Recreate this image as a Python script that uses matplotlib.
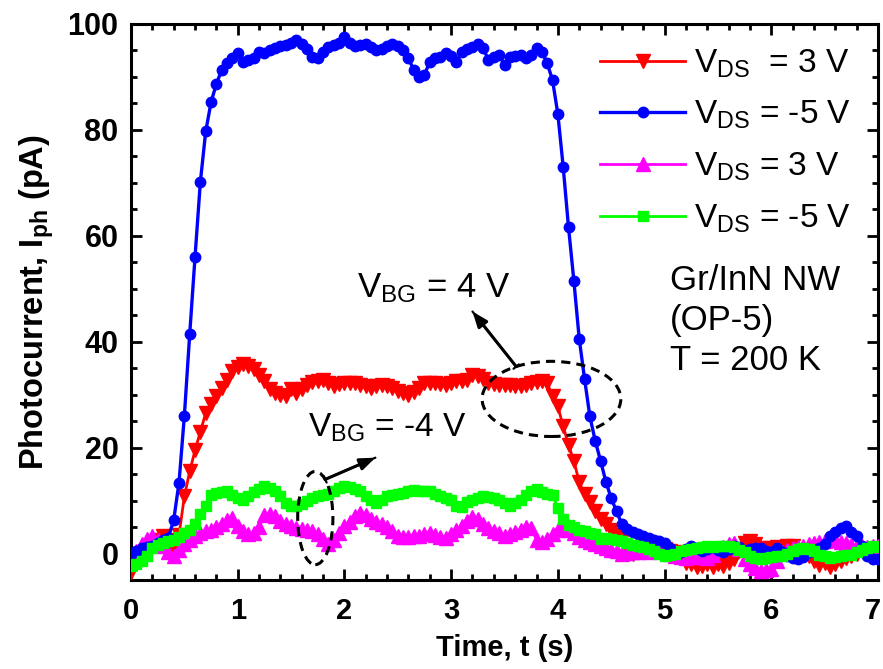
import numpy as np
import matplotlib
matplotlib.use("Agg")
import matplotlib.pyplot as plt
import matplotlib.transforms as mtransforms
from matplotlib.patches import Ellipse

plt.rcParams['font.family'] = ['Liberation Sans', 'DejaVu Sans']
plt.rcParams['mathtext.fontset'] = 'custom'
plt.rcParams['mathtext.rm'] = 'Liberation Sans'
plt.rcParams['mathtext.bf'] = 'Liberation Sans:bold'
plt.rcParams['mathtext.default'] = 'regular'

# sampling time (s), one reading every 50 ms
time_s = np.round(np.arange(0, 141) * 0.05, 2)

# V_BG = 4 V, V_DS = 3 V
iph_bg4_ds3 = [
    -3.5, -2.0, -0.5, 0.5, 1.5, 2.6, 3.3, 2.5, 0.3, 3.5,
    10.8, 15.5, 19.5, 23.0, 26.5, 28.3, 29.8, 31.2, 32.7, 34.4,
    35.3, 35.7, 35.5, 34.8, 33.8, 32.5, 31.0, 30.3, 30.0, 29.7,
    31.0, 30.4, 31.0, 31.9, 32.3, 32.6, 32.8, 32.2, 31.6, 32.0,
    32.2, 32.2, 32.2, 31.9, 31.6, 31.3, 31.6, 31.9, 31.6, 31.2,
    30.6, 30.3, 30.0, 30.5, 31.2, 32.2, 32.2, 32.2, 32.0, 31.9,
    32.2, 32.5, 32.6, 32.8, 33.8, 33.5, 33.0, 32.2, 32.0, 31.9,
    31.9, 31.9, 31.7, 31.6, 31.9, 32.2, 32.4, 32.5, 32.2, 29.7,
    27.8, 24.0, 20.5, 17.5, 13.5, 11.2, 9.8, 8.0, 6.5, 5.5,
    4.5, 3.5, 2.5, 1.0, 0.0, 0.5, 1.0, 1.2, 1.4, 1.2,
    0.8, 0.5, 0.2, -0.8, -1.8, -2.0, -2.6, -2.4, -2.0, -2.6,
    -2.0, -2.4, -1.8, -1.0, 0.5, 2.0, 2.3, 1.8, 1.0, 0.8,
    1.0, 1.2, 1.0, 1.4, 1.4, 0.5, 0.0, -0.5, -1.5, -2.1,
    -1.8, -2.6, -2.0, -1.5, -0.8, -0.5, 0.0, 0.6, 0.2, 0.8,
    1.0,
]

# V_BG = 4 V, V_DS = -5 V
iph_bg4_dsm5 = [
    0.0, 0.5, 1.0, 1.2, 1.5, 2.0, 2.5, 3.0, 6.3, 13.4,
    26.0, 41.4, 56.0, 70.2, 79.7, 85.2, 88.7, 91.3, 92.6, 93.5,
    94.5, 92.9, 93.2, 93.5, 94.8, 94.5, 95.0, 95.4, 95.8, 96.0,
    96.5, 97.0, 96.3, 95.2, 93.8, 93.5, 94.8, 95.6, 96.0, 96.5,
    97.6, 96.5, 95.8, 96.0, 96.3, 95.6, 95.0, 95.3, 95.8, 96.3,
    95.8, 95.0, 93.5, 91.3, 90.0, 90.4, 92.9, 93.5, 93.8, 94.5,
    94.0, 92.9, 94.8, 95.2, 95.6, 96.3, 95.4, 93.2, 93.8, 94.2,
    92.3, 93.8, 94.0, 94.2, 93.5, 94.2, 95.4, 94.8, 92.6, 89.4,
    83.0, 73.0, 61.6, 51.5, 40.6, 33.0, 25.9, 21.3, 17.5, 13.6,
    10.4, 8.0, 5.5, 4.6, 4.0, 3.6, 3.3, 2.9, 2.6, 2.3,
    2.0, 1.0, 0.3, 0.2, 0.8, 1.4, 1.0, 0.5, 0.8, 1.2,
    0.6, 0.3, 0.9, 1.5, 1.2, 0.5, 0.8, 1.1, 1.1, 0.5,
    0.3, 1.0, 0.2, -0.5, -0.8, -1.1, -0.6, 0.2, 0.5, 1.0,
    1.8, 3.3, 4.0, 4.8, 5.2, 4.0, 3.3, 1.5, -0.5, -1.1,
    -1.0,
]

# V_BG = -4 V, V_DS = 3 V
iph_bgm4_ds3 = [
    -1.5, 0.5, 1.8, 2.8, 3.3, 2.6, 1.5, 0.2, -0.5, 0.6,
    1.8, 2.6, 3.3, 3.9, 4.2, 4.5, 5.0, 5.5, 6.4, 6.8,
    5.2, 4.2, 3.6, 3.8, 5.0, 7.2, 7.4, 7.0, 6.2, 5.5,
    5.2, 4.9, 4.7, 4.5, 4.2, 3.6, 2.8, 1.8, 2.6, 3.9,
    5.2, 6.0, 7.0, 7.7, 7.2, 6.6, 6.0, 5.6, 5.0, 4.2,
    3.4, 3.1, 3.2, 3.3, 3.4, 3.6, 3.9, 3.5, 3.2, 3.0,
    3.6, 4.4, 5.2, 6.2, 6.9, 6.5, 5.6, 4.8, 4.3, 3.8,
    3.4, 3.6, 4.0, 4.5, 5.0, 4.8, 2.6, 2.2, 2.8, 3.6,
    4.5, 5.2, 4.4, 3.9, 3.2, 2.6, 2.2, 1.8, 1.4, 1.1,
    0.6, 0.4, 0.0, 0.1, 0.2, 0.3, 0.4, 0.3, 0.5, 0.4,
    0.4, 0.0, -0.4, -0.6, -0.8, -0.6, -0.5, -0.6, -0.8, -0.2,
    0.6, 1.2, 1.8, 2.0, 0.8, -1.1, -2.0, -2.8, -3.3, -3.2,
    -3.0, -1.5, 0.2, 0.6, 1.0, 1.2, 1.5, 1.8, 2.0, 2.2,
    2.4, 2.6, 2.5, 2.2, 2.0, 1.7, 1.4, 1.4, 1.2, 1.4,
    1.5,
]

# V_BG = -4 V, V_DS = -5 V
iph_bgm4_dsm5 = [
    -2.4, -2.0, -1.5, -0.5, 1.0, 1.7, 2.0, 2.3, 2.6, 3.2,
    3.9, 4.5, 5.5, 7.5, 9.0, 11.1, 11.5, 11.6, 11.8, 11.1,
    10.5, 10.2, 10.8, 11.6, 12.2, 12.7, 12.3, 11.8, 10.8, 9.5,
    9.0, 8.9, 9.4, 10.0, 10.4, 10.8, 11.0, 11.3, 11.8, 12.3,
    12.7, 12.5, 12.1, 11.8, 10.8, 10.2, 9.6, 10.2, 10.8, 11.1,
    11.3, 11.5, 11.8, 12.0, 11.9, 11.8, 11.8, 11.2, 10.8, 10.4,
    10.2, 9.0, 8.8, 9.8, 10.2, 10.5, 10.8, 10.6, 10.4, 10.2,
    9.6, 8.9, 9.5, 10.2, 11.0, 11.8, 12.1, 11.6, 11.3, 11.1,
    8.6, 6.6, 5.4, 5.0, 4.5, 4.2, 3.9, 3.7, 2.8, 2.9,
    2.8, 2.5, 2.3, 2.0, 1.7, 1.5, 1.2, 0.8, 0.4, 0.0,
    -0.5, -0.3, 0.0, 0.4, 0.6, 0.8, 1.0, 1.2, 1.4, 1.3,
    1.4, 1.5, 1.4, 1.2, 0.6, 0.2, -0.4, -0.8, -1.1, -0.9,
    -0.6, -0.5, -0.5, 0.0, 0.5, 0.8, 1.1, 0.9, 0.4, -0.2,
    -0.5, -0.8, -0.6, -0.4, -0.3, -0.2, 0.2, 0.6, 1.0, 1.4,
    1.2,
]

series_labels = [r'V$_{DS}$  = 3 V', r'V$_{DS}$ = -5 V',
                 r'V$_{DS}$ = 3 V', r'V$_{DS}$ = -5 V']

fig = plt.figure(figsize=(8.83, 6.69), dpi=100)
ax = fig.add_axes([131 / 883, 89 / 669, 747 / 883, 556 / 669])

h_red, = ax.plot(time_s, iph_bg4_ds3, '-v', color='#ff0000', lw=2.0,
                 ms=9.5, mec='#ff0000', label=series_labels[0], zorder=3)
h_blue, = ax.plot(time_s, iph_bg4_dsm5, '-o', color='#0000ff', lw=2.4,
                  ms=7.5, mec='#0000ff', label=series_labels[1], zorder=4)
h_mag, = ax.plot(time_s, iph_bgm4_ds3, '-^', color='#ff00ff', lw=2.0,
                 ms=9.5, mec='#ff00ff', label=series_labels[2], zorder=3)
h_grn, = ax.plot(time_s, iph_bgm4_dsm5, '-s', color='#00ff00', lw=2.0,
                 ms=7, mec='#00ff00', label=series_labels[3], zorder=5)

ax.set_xlim(0, 7)
ax.set_ylim(-5, 100)
ax.set_xticks(np.arange(0, 8, 1))
ax.set_yticks(np.arange(0, 101, 20))
ax.set_xticks(np.arange(0, 7.01, 0.2), minor=True)
ax.set_yticks(np.arange(-5, 100.1, 5), minor=True)
ax.tick_params(which='both', direction='in', top=True, right=True, width=2.0)
ax.tick_params(which='major', length=8)
ax.tick_params(axis='x', which='major', pad=12, labelsize=21)
ax.tick_params(axis='y', which='major', pad=9, labelsize=22)
ax.tick_params(which='minor', length=4.5)
for lab in ax.get_xticklabels() + ax.get_yticklabels():
    lab.set_fontweight('bold')
for sp in ax.spines.values():
    sp.set_linewidth(2.2)

# keep the last time label inside the canvas
last_lab = ax.get_xticklabels()[-1]
last_lab.set_transform(last_lab.get_transform() +
                       mtransforms.ScaledTranslation(-5 / 100, 0, fig.dpi_scale_trans))

ax.set_xlabel('Time, t (s)', fontsize=21, fontweight='bold', labelpad=7)
ax.set_ylabel(r'Photocurrent, I$_\mathbf{ph}$ (pA)', fontsize=23.5,
              fontweight='bold', labelpad=8)

leg = ax.legend(handles=[h_red, h_blue, h_mag, h_grn], loc='upper left',
                bbox_to_anchor=(0.628, 0.958), frameon=False, fontsize=24,
                handlelength=2.55, handletextpad=0.28, labelspacing=0.58,
                borderpad=0, borderaxespad=0)

# sample description
ax.text(5.05, 49.8, 'Gr/InN NW', fontsize=25, ha='left', va='baseline')
ax.text(5.05, 42.3, '(OP-5)', fontsize=25, ha='left', va='baseline')
ax.text(5.05, 34.7, 'T = 200 K', fontsize=25, ha='left', va='baseline')

# back-gate annotations
ax.text(2.12, 48.3, r'V$_{BG}$ = 4 V', fontsize=25, ha='left', va='baseline')
ax.text(1.66, 22.1, r'V$_{BG}$ = -4 V', fontsize=24, ha='left', va='baseline')

for tail, head in [((3.61, 35.3), (3.2, 45.7)), ((1.82, 14.0), (2.29, 18.1))]:
    ax.annotate('', xy=head, xytext=tail,
                arrowprops=dict(arrowstyle='-|>,head_length=0.9,head_width=0.35',
                                color='black', lw=2.2, shrinkA=0, shrinkB=0))
    ax.annotate('', xy=head, xytext=tail,
                arrowprops=dict(arrowstyle='|-|,widthA=0.25,widthB=0',
                                color='black', lw=1.6, shrinkA=0, shrinkB=0))

ax.add_patch(Ellipse((3.94, 29.2), 1.30, 14.2, fill=False, ls=(0, (3, 2)),
                     lw=2.2, color='black', zorder=6))
ax.add_patch(Ellipse((1.727, 6.7), 0.33, 17.6, fill=False,
                     ls=(0, (3, 2)), lw=2.2, color='black', zorder=6))

fig.savefig('out.png', dpi=100)
